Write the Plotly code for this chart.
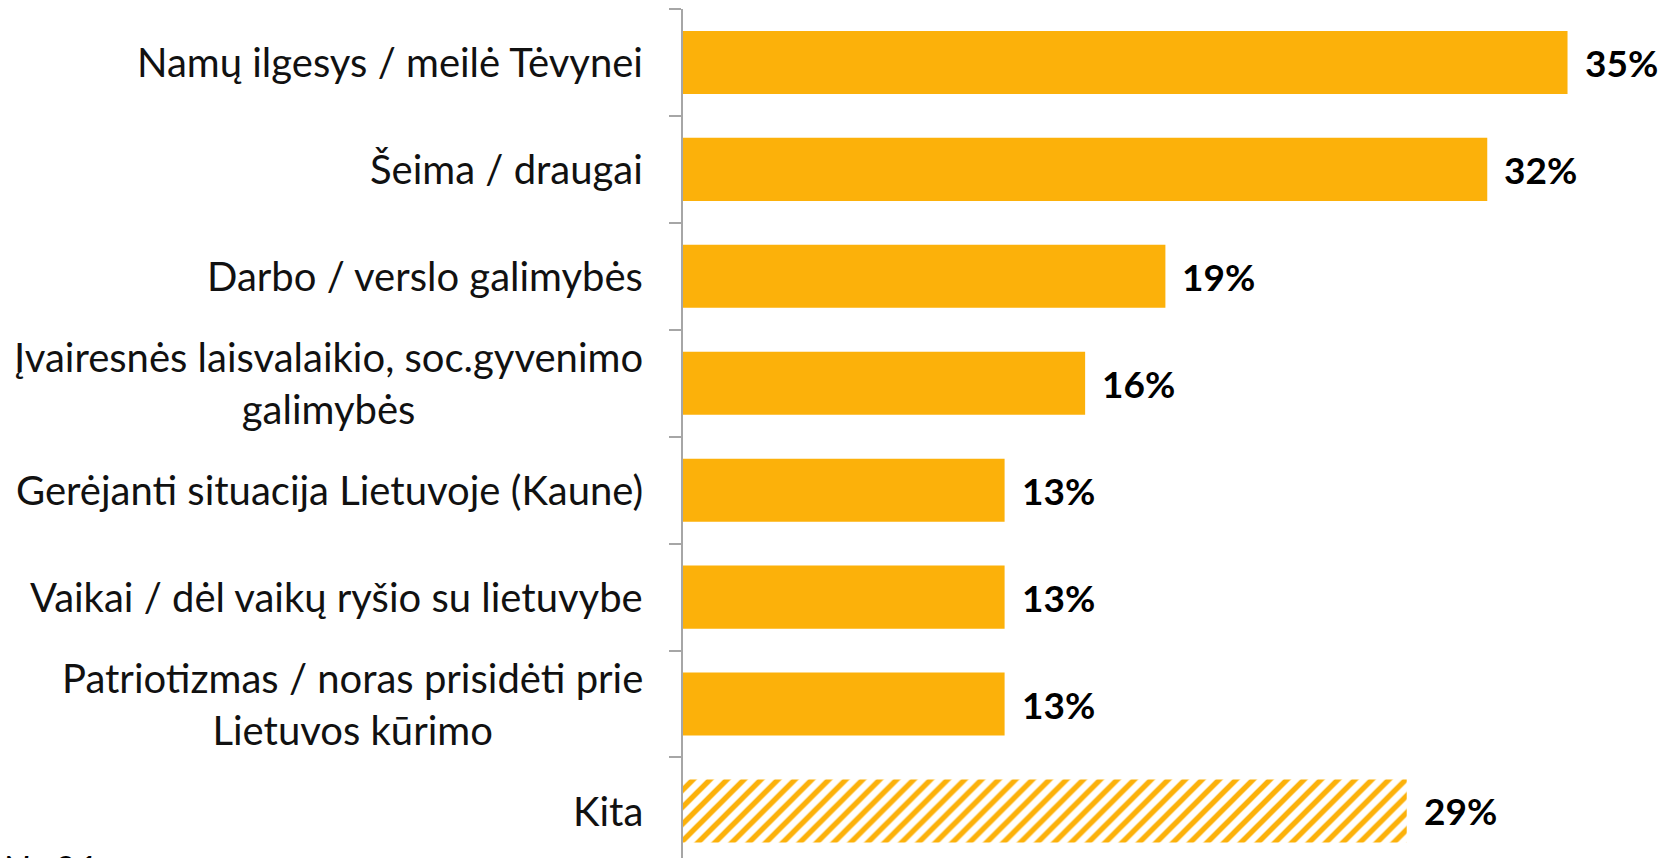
import plotly.graph_objects as go

categories = [
    "Namų ilgesys / meilė Tėvynei",
    "Šeima / draugai",
    "Darbo / verslo galimybės",
    "Įvairesnės laisvalaikio, soc.gyvenimo<br>galimybės",
    "Gerėjanti situacija Lietuvoje (Kaune)",
    "Vaikai / dėl vaikų ryšio su lietuvybe",
    "Patriotizmas / noras prisidėti prie<br>Lietuvos kūrimo",
    "Kita",
]
# shares of N=31 respondents, in percent
values = [35.48, 32.26, 19.35, 16.13, 12.90, 12.90, 12.90, 29.03]
hatched = [False, False, False, False, False, False, False, True]
note_text = "N=31"

ORANGE = "#FCB10A"
FONT = "Lato"
LEFT = 683

idx = list(range(len(categories)))

fig = go.Figure()
fig.add_trace(go.Bar(
    y=idx,
    x=values,
    orientation="h",
    marker=dict(
        color=ORANGE,
        line=dict(width=0),
        pattern=dict(
            shape=[("/" if h else "") for h in hatched],
            bgcolor="white",
            size=12,
            solidity=0.45,
            fillmode="replace",
        ),
    ),
    hoverinfo="skip",
))

annotations = []
for i, (c, v) in enumerate(zip(categories, values)):
    annotations.append(dict(
        x=0, xref="paper", y=i, yref="y",
        text=c, showarrow=False, xanchor="right", yanchor="middle",
        xshift=-38, align="center",
        font=dict(family=FONT, size=40, color="#111111"),
    ))
    annotations.append(dict(
        x=v, xref="x", y=i, yref="y",
        text=f"<b>{round(v)}%</b>", showarrow=False, xanchor="left", yanchor="middle",
        xshift=15,
        font=dict(family=FONT, size=37, color="#000000"),
    ))
annotations.append(dict(
    x=0, xref="paper", y=0, yref="paper",
    text=f"<i>{note_text}</i>", showarrow=False, xanchor="left", yanchor="top",
    yshift=14, xshift=-LEFT,
    font=dict(family=FONT, size=39, color="#000000"),
))

fig.update_layout(
    width=1666, height=858,
    margin=dict(l=LEFT, r=0, t=9, b=0),
    paper_bgcolor="white", plot_bgcolor="white",
    showlegend=False,
    bargap=0.41,
    annotations=annotations,
    xaxis=dict(range=[0, 39.43], visible=False, fixedrange=True),
    yaxis=dict(
        range=[7.44, -0.5],
        showticklabels=False,
        tickmode="array",
        tickvals=[i - 0.5 for i in range(9)],
        ticks="outside", ticklen=12, tickcolor="#A6A6A6", tickwidth=1.5,
        showline=True, linecolor="#A6A6A6", linewidth=1.5,
        showgrid=False, zeroline=False, fixedrange=True,
    ),
)

fig.write_html("out.html", config={"displayModeBar": False},
               post_script="document.body.style.margin='0';")
